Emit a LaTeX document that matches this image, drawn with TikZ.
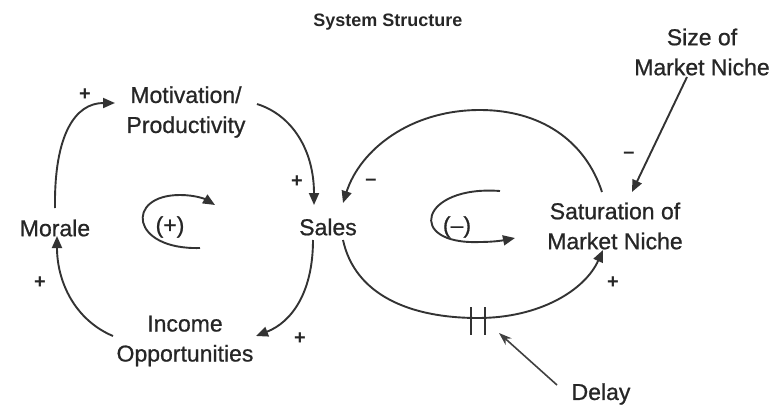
\documentclass[tikz,border=0pt]{standalone}
\usepackage{fontspec}
\setmainfont{Liberation Sans}
\newfontfamily\heavysans[FakeBold=0.8,Ligatures=TeX]{Liberation Sans}
\usetikzlibrary{arrows.meta,calc}

\tikzset{
  lbl/.style={inner sep=0pt, align=center, text=black!85,
    font=\heavysans\fontsize{23}{30}\selectfont},
  sgn/.style={inner sep=0pt, text=black!85,
    font=\fontsize{20}{20}\selectfont\bfseries},
  link/.style={line width=1.9pt, draw=black!80,
    -{Triangle[length=12pt,width=10pt]}},
  loopmark/.style={line width=1.9pt, draw=black!80,
    -{Triangle[length=12pt,width=10pt]}},
  pointer/.style={line width=1.6pt, draw=black!75,
    -{Stealth[length=13pt,width=9pt]}},
  tick/.style={line width=1.9pt, draw=black!80}
}

\begin{document}
\begin{tikzpicture}[x=1pt,y=-1pt]
\useasboundingbox (0,0) rectangle (772,407);

% title
\node[inner sep=0pt, text=black!85, font=\fontsize{18}{18}\selectfont\bfseries]
  (title) at (388,22) {System Structure};

% variables
\node[lbl] (motiv)  at (186,112) {Motivation/\\Productivity};
\node[lbl] (morale) at (55,228)  {Morale};
\node[lbl] (sales)  at (328,227) {Sales};
\node[lbl] (sat)    at (615,226) {Saturation of\\Market Niche};
\node[lbl] (income) at (185,341) {Income\\Opportunities};
\node[lbl] (size)   at (702,52)  {Size of\\Market Niche};
\node[lbl] (delay)  at (601,394) {Delay};

% loop polarity labels
\node[lbl] (rloop) at (170,227) {(+)};
\node[lbl] (bloop) at (457,227) {(–)};

% reinforcing loop
\draw[link] ($(morale)+(0,-20)$) .. controls (54,135) and (75,103) .. ($(motiv)+(-71,-9)$);
\draw[link] ($(motiv)+(71,-8)$) .. controls (292,115) and (314,150) .. ($(sales)+(-14,-22)$);
\draw[link] ($(sales)+(-15,13)$) .. controls (313,292) and (292,322) .. ($(income)+(71,-5)$);
\draw[link] ($(income)+(-72,-5)$) .. controls (75,320) and (57,282) .. ($(morale)+(2,8)$);

% balancing loop
\draw[link] ($(sat)+(-13,-34)$) .. controls (585,140) and (540,110) .. (480,110)
  .. controls (410,110) and (360,150) .. ($(sales)+(15,-24)$);
\coordinate (delaymid) at (478,318);
\draw[link] ($(sales)+(15,13)$) .. controls (355,295) and (410,318) .. (delaymid)
  .. controls (540,318) and (585,290) .. ($(sat)+(-12,24)$);
\draw[link] ($(size)+(-15,25)$) -- ($(sat)+(17,-34)$);

% delay marker on the link
\draw[tick] ($(delaymid)+(-7,-11)$) -- ($(delaymid)+(-7,17)$);
\draw[tick] ($(delaymid)+(7,-11)$) -- ($(delaymid)+(7,17)$);
\draw[pointer] ($(delay)+(-44,-9)$) -- ($(delaymid)+(21,15)$);

% loop direction arrows
\draw[loopmark] ($(rloop)+(30,21)$) .. controls (130,250) and (125,195) .. (180,195)
  .. controls (195,195) and (205,199) .. ($(rloop)+(45,-22)$);
\draw[loopmark] ($(bloop)+(43,-36)$) .. controls (420,185) and (405,245) .. (480,242)
  .. controls (495,242) and (505,240) .. ($(bloop)+(58,11)$);

% link polarities
\node[sgn] (p1) at (85,95)   {+};
\node[sgn] (p2) at (297,182) {+};
\node[sgn] (p3) at (40,283)  {+};
\node[sgn] (p4) at (300,339) {+};
\node[sgn] (p5) at (613,283) {+};
\node[sgn] (m1) at (371,182) {–};
\node[sgn] (m2) at (629,155) {–};
\end{tikzpicture}
\end{document}
